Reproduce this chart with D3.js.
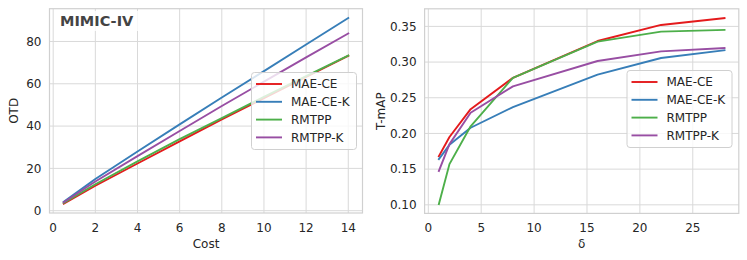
<!DOCTYPE html>
<html>
<head>
<meta charset="utf-8">
<script src="https://cdn.jsdelivr.net/npm/d3@7"></script>
<style>
  body { margin: 0; background: #fff; }
  svg { font-family: "DejaVu Sans", sans-serif; }
</style>
</head>
<body>
<div id="chart"></div>
<script>
// data
const seriesNames = ["MAE-CE", "MAE-CE-K", "RMTPP", "RMTPP-K"];
const colors = ["#e41a1c", "#377eb8", "#4daf4a", "#984ea3"];

const cost = [0.5, 2, 4, 6, 8, 10, 12, 14];
const otdMaeCe = [3.3, 11.8, 22.3, 32.8, 43.2, 53.2, 63.2, 73.2];
const otdMaeCeK = [4.2, 15.0, 28.0, 40.8, 53.5, 66.0, 78.6, 91.1];
const otdRmtpp = [3.7, 12.5, 23.3, 33.8, 43.8, 53.8, 63.6, 73.3];
const otdRmtppK = [4.0, 13.8, 25.8, 37.7, 49.5, 61.0, 72.5, 83.8];

const delta = [1, 2, 4, 8, 16, 22, 28];
const mapMaeCe = [0.168, 0.195, 0.234, 0.278, 0.3295, 0.352, 0.3616];
const mapMaeCeK = [0.164, 0.184, 0.208, 0.237, 0.2825, 0.3057, 0.3165];
const mapRmtpp = [0.101, 0.157, 0.210, 0.278, 0.3287, 0.3426, 0.345];
const mapRmtppK = [0.1475, 0.185, 0.229, 0.266, 0.3015, 0.315, 0.3197];

const xTicksLeft = [0, 2, 4, 6, 8, 10, 12, 14];
const yTicksLeft = [0, 20, 40, 60, 80];
const xTicksRight = [0, 5, 10, 15, 20, 25];
const yTicksRight = [0.10, 0.15, 0.20, 0.25, 0.30, 0.35];

const svg = d3.select("#chart").append("svg")
  .attr("width", 747)
  .attr("height", 260);

// matplotlib style 5% margins
function padded(vals) {
  const [lo, hi] = d3.extent(vals);
  const m = (hi - lo) * 0.05;
  return [lo - m, hi + m];
}

function panel(opts) {
  const x = d3.scaleLinear().domain(padded(opts.xs)).range([opts.left, opts.right]);
  const y = d3.scaleLinear().domain(padded(opts.ys.flat())).range([opts.bottom, opts.top]);
  const g = svg.append("g");

  // grid
  g.selectAll(".gx").data(opts.xTicks).enter().append("line")
    .attr("x1", d => x(d)).attr("x2", d => x(d))
    .attr("y1", opts.top).attr("y2", opts.bottom)
    .attr("stroke", "#d9d9d9").attr("stroke-width", 1);
  g.selectAll(".gy").data(opts.yTicks).enter().append("line")
    .attr("x1", opts.left).attr("x2", opts.right)
    .attr("y1", d => y(d)).attr("y2", d => y(d))
    .attr("stroke", "#d9d9d9").attr("stroke-width", 1);

  // frame
  g.append("rect")
    .attr("x", opts.left).attr("y", opts.top)
    .attr("width", opts.right - opts.left).attr("height", opts.bottom - opts.top)
    .attr("fill", "none").attr("stroke", "#d0d0d0").attr("stroke-width", 1.2);

  // tick labels
  g.selectAll(".tx").data(opts.xTicks).enter().append("text")
    .attr("x", d => x(d)).attr("y", 232)
    .attr("text-anchor", "middle")
    .style("font-size", "12px").attr("fill", "#262626")
    .text(d => d);
  g.selectAll(".ty").data(opts.yTicks).enter().append("text")
    .attr("x", opts.left - 8).attr("y", d => y(d) + 4.3)
    .attr("text-anchor", "end")
    .style("font-size", "12px").attr("fill", "#262626")
    .text(opts.yFmt);

  // axis labels
  g.append("text")
    .attr("x", (opts.left + opts.right) / 2).attr("y", 248)
    .attr("text-anchor", "middle")
    .style("font-size", "12px").attr("fill", "#262626")
    .text(opts.xLabel);
  g.append("text")
    .attr("transform", `translate(${opts.yLabelX},${(opts.top + opts.bottom) / 2}) rotate(-90)`)
    .attr("text-anchor", "middle")
    .style("font-size", "12px").attr("fill", "#262626")
    .text(opts.yLabel);

  // lines
  const line = d3.line().x((d, i) => x(opts.xs[i])).y(d => y(d));
  opts.ys.forEach((vals, i) => {
    g.append("path")
      .attr("d", line(vals))
      .attr("fill", "none")
      .attr("stroke", colors[i])
      .attr("stroke-width", 1.9)
      .attr("stroke-linejoin", "round")
      .attr("stroke-linecap", "square");
  });

  // legend
  const lg = g.append("g").attr("transform", `translate(${opts.legX},${opts.legY})`);
  lg.append("rect")
    .attr("width", 105).attr("height", 77).attr("rx", 3)
    .attr("fill", "#fff").attr("fill-opacity", 0.8)
    .attr("stroke", "#d0d0d0");
  seriesNames.forEach((name, i) => {
    const yy = 11.5 + i * 17.8;
    lg.append("line")
      .attr("x1", 4.5).attr("x2", 30.5).attr("y1", yy).attr("y2", yy)
      .attr("stroke", colors[i]).attr("stroke-width", 1.9);
    lg.append("text")
      .attr("x", 39.5).attr("y", yy + 4.3)
      .style("font-size", "12px").attr("fill", "#262626")
      .text(name);
  });

  return g;
}

const leftPanel = panel({
  left: 49.5, right: 362.5, top: 8.7, bottom: 213,
  xs: cost, ys: [otdMaeCe, otdMaeCeK, otdRmtpp, otdRmtppK],
  xTicks: xTicksLeft, yTicks: yTicksLeft, yFmt: d => d,
  xLabel: "Cost", yLabel: "OTD", yLabelX: 18,
  legX: 251.5, legY: 72.5
});

// dataset title with white box
leftPanel.append("rect")
  .attr("x", 56).attr("y", 11).attr("width", 84).attr("height", 20)
  .attr("fill", "#fff").attr("fill-opacity", 0.8);
leftPanel.append("text")
  .attr("x", 60).attr("y", 26)
  .style("font-size", "14.5px").style("font-weight", "bold")
  .attr("fill", "#444")
  .text("MIMIC-IV");

panel({
  left: 424.6, right: 738.8, top: 8.8, bottom: 213.4,
  xs: delta, ys: [mapMaeCe, mapMaeCeK, mapRmtpp, mapRmtppK],
  xTicks: xTicksRight, yTicks: yTicksRight, yFmt: d => d.toFixed(2),
  xLabel: "δ", yLabel: "T-mAP", yLabelX: 385,
  legX: 627, legY: 70.5
});
</script>
</body>
</html>
